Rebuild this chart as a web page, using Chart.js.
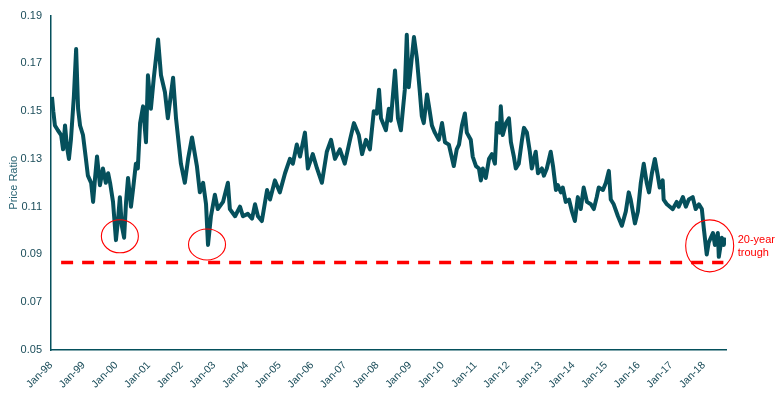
<!DOCTYPE html>
<html>
<head>
    <meta charset="UTF-8">
    <title>Price Ratio</title>
    <script src="https://cdn.jsdelivr.net/npm/chart.js@4"></script>
    <style>
        body { margin: 0; background: #fff; }
    </style>
</head>
<body>
    <canvas id="ratioChart" width="782" height="393"></canvas>
    <script>
        // data (decimal year, ratio)
        const years = [
            1998.03, 1998.07, 1998.12, 1998.21, 1998.31, 1998.37, 1998.43, 1998.49, 1998.55, 1998.61,
            1998.70, 1998.77, 1998.83, 1998.89, 1998.98, 1999.07, 1999.13, 1999.23, 1999.29, 1999.35,
            1999.41, 1999.50, 1999.59, 1999.68, 1999.75, 1999.81, 1999.90, 1999.99, 2000.05, 2000.11,
            2000.17, 2000.24, 2000.30, 2000.36, 2000.45, 2000.52, 2000.60, 2000.66, 2000.73, 2000.82,
            2000.91, 2000.97, 2001.06, 2001.15, 2001.28, 2001.37, 2001.49, 2001.58, 2001.74, 2001.83,
            2001.98, 2002.10, 2002.20, 2002.32, 2002.47, 2002.56, 2002.66, 2002.75, 2002.81, 2002.90,
            2003.02, 2003.11, 2003.27, 2003.42, 2003.48, 2003.64, 2003.79, 2003.88, 2004.03, 2004.16,
            2004.25, 2004.34, 2004.46, 2004.62, 2004.71, 2004.86, 2005.01, 2005.17, 2005.32, 2005.41,
            2005.53, 2005.63, 2005.78, 2005.87, 2006.02, 2006.15, 2006.30, 2006.45, 2006.58, 2006.70,
            2006.85, 2007.00, 2007.16, 2007.28, 2007.43, 2007.53, 2007.65, 2007.77, 2007.89, 2007.98,
            2008.05, 2008.11, 2008.26, 2008.35, 2008.41, 2008.54, 2008.63, 2008.72, 2008.84, 2008.90,
            2008.96, 2009.12, 2009.21, 2009.30, 2009.36, 2009.42, 2009.52, 2009.58, 2009.67, 2009.76,
            2009.88, 2009.98, 2010.07, 2010.19, 2010.34, 2010.43, 2010.50, 2010.59, 2010.68, 2010.74,
            2010.86, 2010.92, 2011.02, 2011.11, 2011.17, 2011.23, 2011.32, 2011.42, 2011.51, 2011.60,
            2011.66, 2011.75, 2011.78, 2011.84, 2011.94, 2012.03, 2012.09, 2012.18, 2012.24, 2012.33,
            2012.43, 2012.49, 2012.58, 2012.67, 2012.73, 2012.85, 2012.92, 2013.04, 2013.10, 2013.19,
            2013.31, 2013.38, 2013.47, 2013.53, 2013.62, 2013.68, 2013.77, 2013.87, 2013.96, 2014.05,
            2014.14, 2014.23, 2014.32, 2014.42, 2014.54, 2014.63, 2014.72, 2014.78, 2014.91, 2015.00,
            2015.09, 2015.15, 2015.24, 2015.37, 2015.49, 2015.61, 2015.70, 2015.76, 2015.89, 2015.98,
            2016.07, 2016.16, 2016.25, 2016.32, 2016.41, 2016.50, 2016.59, 2016.65, 2016.74, 2016.77,
            2016.87, 2016.96, 2017.05, 2017.17, 2017.23, 2017.36, 2017.45, 2017.54, 2017.66, 2017.75,
            2017.85, 2017.94, 2018.00, 2018.09, 2018.15, 2018.28, 2018.34, 2018.43, 2018.46, 2018.55,
            2018.61, 2018.67
        ];
        const ratio = [
            0.156, 0.150, 0.144, 0.142, 0.140, 0.134, 0.144, 0.135, 0.130, 0.138,
            0.156, 0.176, 0.151, 0.144, 0.140, 0.130, 0.123, 0.120, 0.112, 0.122,
            0.131, 0.119, 0.126, 0.120, 0.124, 0.120, 0.112, 0.096, 0.104, 0.114,
            0.102, 0.097, 0.112, 0.122, 0.110, 0.118, 0.128, 0.126, 0.145, 0.152,
            0.137, 0.165, 0.151, 0.164, 0.180, 0.165, 0.158, 0.147, 0.164, 0.147,
            0.128, 0.120, 0.130, 0.139, 0.127, 0.116, 0.120, 0.111, 0.094, 0.106,
            0.115, 0.109, 0.112, 0.120, 0.109, 0.106, 0.110, 0.106, 0.107, 0.105,
            0.111, 0.106, 0.104, 0.117, 0.113, 0.121, 0.116, 0.124, 0.130, 0.128,
            0.136, 0.131, 0.141, 0.126, 0.132, 0.126, 0.120, 0.133, 0.138, 0.130,
            0.134, 0.128, 0.138, 0.145, 0.140, 0.132, 0.138, 0.134, 0.150, 0.149,
            0.159, 0.147, 0.142, 0.151, 0.146, 0.167, 0.147, 0.142, 0.159, 0.182,
            0.160, 0.181, 0.172, 0.158, 0.148, 0.145, 0.157, 0.152, 0.144, 0.141,
            0.138, 0.145, 0.137, 0.136, 0.127, 0.134, 0.136, 0.144, 0.149, 0.141,
            0.138, 0.131, 0.127, 0.126, 0.121, 0.126, 0.122, 0.130, 0.132, 0.128,
            0.145, 0.141, 0.152, 0.140, 0.145, 0.147, 0.137, 0.131, 0.126, 0.128,
            0.138, 0.143, 0.141, 0.133, 0.126, 0.133, 0.124, 0.126, 0.123, 0.126,
            0.133, 0.127, 0.117, 0.119, 0.116, 0.118, 0.112, 0.113, 0.108, 0.104,
            0.114, 0.109, 0.118, 0.112, 0.111, 0.109, 0.114, 0.118, 0.117, 0.120,
            0.125, 0.113, 0.111, 0.106, 0.102, 0.108, 0.116, 0.113, 0.103, 0.108,
            0.120, 0.128, 0.120, 0.116, 0.124, 0.130, 0.123, 0.118, 0.121, 0.113,
            0.111, 0.110, 0.109, 0.112, 0.110, 0.114, 0.110, 0.113, 0.114, 0.109,
            0.111, 0.109, 0.101, 0.090, 0.095, 0.099, 0.094, 0.099, 0.089, 0.097,
            0.094, 0.097
        ];

        // axis ticks
        const xTickYears = [1998, 1999, 2000, 2001, 2002, 2003, 2004, 2005, 2006, 2007, 2008,
                            2009, 2010, 2011, 2012, 2013, 2014, 2015, 2016, 2017, 2018];
        const xTickLabels = ['Jan-98', 'Jan-99', 'Jan-00', 'Jan-01', 'Jan-02', 'Jan-03', 'Jan-04',
                             'Jan-05', 'Jan-06', 'Jan-07', 'Jan-08', 'Jan-09', 'Jan-10', 'Jan-11',
                             'Jan-12', 'Jan-13', 'Jan-14', 'Jan-15', 'Jan-16', 'Jan-17', 'Jan-18'];
        const yTicks = [0.05, 0.07, 0.09, 0.11, 0.13, 0.15, 0.17, 0.19];

        // 20-year trough line and circled lows
        const troughLevel = 0.0866;
        const troughSpan = [1998.31, 2018.60];
        const circleYears = [2000.11, 2002.78, 2018.18];
        const circleValues = [0.0976, 0.0942, 0.0936];
        const troughText = ['20-year', 'trough'];

        const teal = '#05505c';
        const axisText = '#1b4d5a';

        // circles + side note, drawn on top of the lines
        const annotate = {
            id: 'annotate',
            afterDatasetsDraw(chart) {
                const { ctx, scales: { x, y } } = chart;
                const radii = [[18.5, 16.5], [18.5, 15.5], [24, 26]];
                ctx.save();
                ctx.strokeStyle = '#ff0000';
                ctx.lineWidth = 1.1;
                circleYears.forEach((yr, i) => {
                    ctx.beginPath();
                    ctx.ellipse(x.getPixelForValue(yr), y.getPixelForValue(circleValues[i]),
                                radii[i][0], radii[i][1], 0, 0, Math.PI * 2);
                    ctx.stroke();
                });
                const cx = x.getPixelForValue(circleYears[2]) + radii[2][0] + 4;
                const cy = y.getPixelForValue(circleValues[2]);
                ctx.fillStyle = '#ff0000';
                ctx.font = '11px "Liberation Sans", Arial, sans-serif';
                ctx.textAlign = 'left';
                ctx.textBaseline = 'middle';
                ctx.fillText(troughText[0], cx, cy - 6);
                ctx.fillText(troughText[1], cx, cy + 7);
                ctx.restore();
            }
        };

        const ctx = document.getElementById('ratioChart').getContext('2d');
        new Chart(ctx, {
            type: 'line',
            data: {
                datasets: [{
                    label: 'Price Ratio',
                    data: years.map((yr, i) => ({ x: yr, y: ratio[i] })),
                    borderColor: teal,
                    borderWidth: 4,
                    borderJoinStyle: 'round',
                    pointRadius: 0,
                    tension: 0
                }, {
                    label: '20-year trough',
                    data: troughSpan.map(yr => ({ x: yr, y: troughLevel })),
                    borderColor: '#ff0000',
                    borderWidth: 3.5,
                    borderDash: [12, 9],
                    pointRadius: 0
                }]
            },
            options: {
                responsive: false,
                animation: false,
                layout: { padding: { top: 14, right: 56, left: 0, bottom: 0 } },
                plugins: {
                    legend: { display: false },
                    tooltip: { enabled: false }
                },
                scales: {
                    x: {
                        type: 'linear',
                        min: 1998,
                        max: 2018.68,
                        afterBuildTicks: s => { s.ticks = xTickYears.map(v => ({ value: v })); },
                        afterFit: s => { s.height = 43; },
                        grid: { display: false, drawTicks: false },
                        border: { display: true, color: teal, width: 1.5 },
                        ticks: {
                            autoSkip: false,
                            maxRotation: 45,
                            minRotation: 45,
                            padding: 9,
                            color: axisText,
                            font: { family: '"Liberation Sans", Arial, sans-serif', size: 10.5 },
                            callback: (v, i) => xTickLabels[i]
                        }
                    },
                    y: {
                        min: 0.05,
                        max: 0.19,
                        afterBuildTicks: s => { s.ticks = yTicks.map(v => ({ value: v })); },
                        afterFit: s => { s.width = 51; },
                        grid: { display: false, drawTicks: false },
                        border: { display: true, color: teal, width: 1.5 },
                        title: {
                            display: true,
                            text: 'Price Ratio',
                            color: '#2a6474',
                            padding: { top: 7, bottom: 0 },
                            font: { family: '"Liberation Sans", Arial, sans-serif', size: 11 }
                        },
                        ticks: {
                            padding: 9,
                            color: axisText,
                            font: { family: '"Liberation Sans", Arial, sans-serif', size: 11 },
                            callback: v => v.toFixed(2)
                        }
                    }
                }
            },
            plugins: [annotate]
        });
    </script>
</body>
</html>
